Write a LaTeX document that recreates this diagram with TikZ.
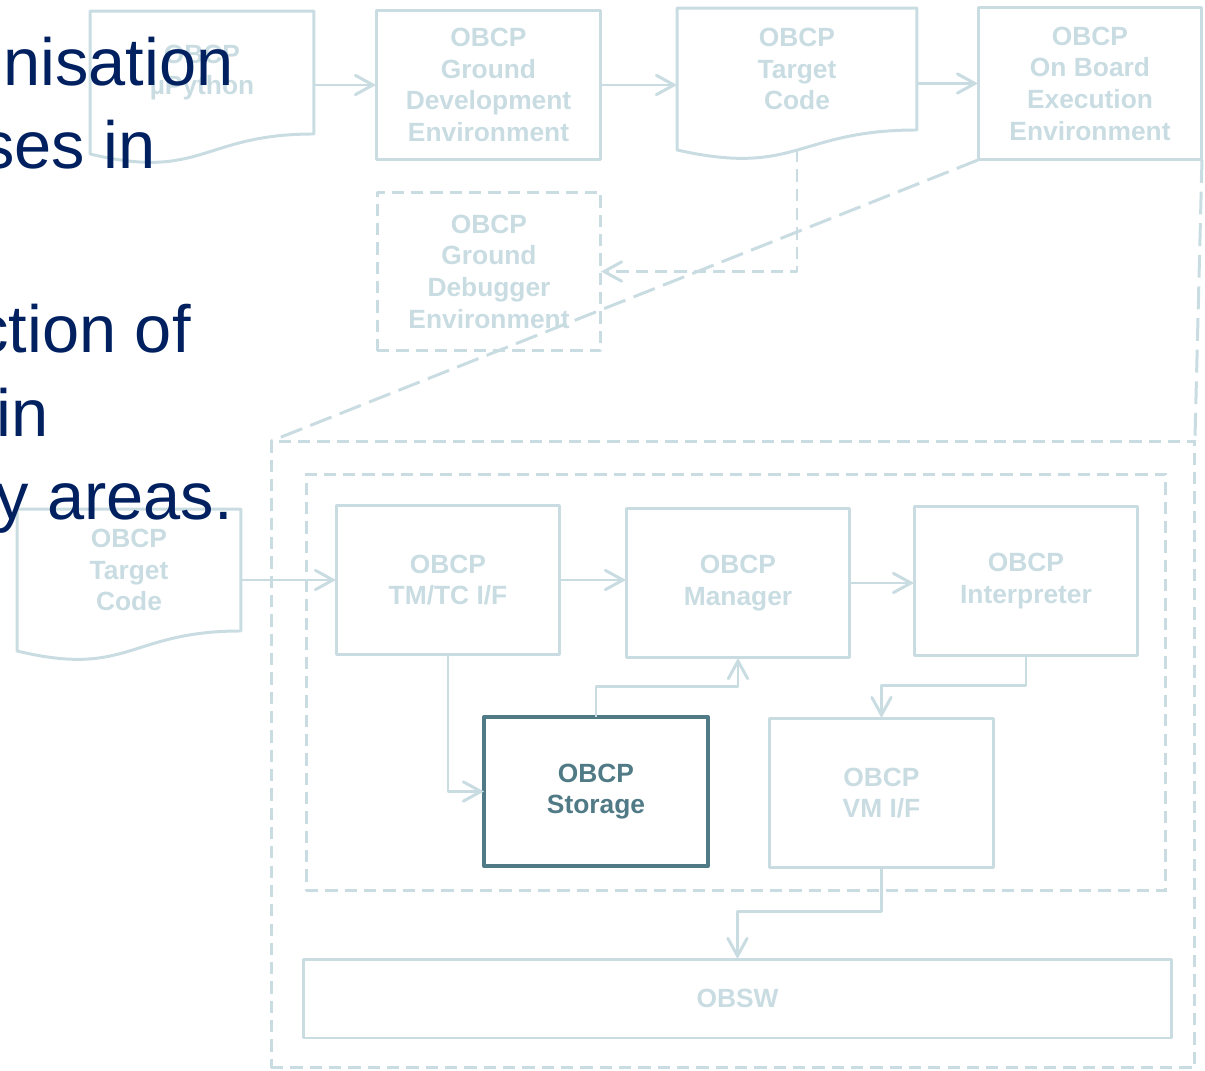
\documentclass[tikz,border=0pt]{standalone}
\usepackage{fontspec}
\setmainfont{Liberation Sans}
\usetikzlibrary{arrows.meta,calc}
\definecolor{pale}{RGB}{200,220,226}
\definecolor{storeteal}{RGB}{80,122,133}
\definecolor{slidenavy}{RGB}{0,32,96}
\tikzset{
  x=0.02cm, y=-0.02cm,
  lbl/.style={font=\bfseries\fontsize{15}{18}\selectfont, text=pale, align=center},
  box/.style={lbl, draw=pale, line width=1.7pt, line join=round, inner sep=0pt, outer sep=0pt},
  doc/.style={lbl, draw=none, inner sep=0pt, outer sep=0pt},
  plain/.style={draw=pale, line width=1.7pt, line join=round},
  conn/.style={plain, -{Straight Barb[length=10pt,width=11pt,line cap=round]}},
  frame/.style={draw=pale, line width=1.7pt, dash pattern=on 7pt off 4pt},
  proj/.style={draw=pale, line width=1.7pt, dash pattern=on 13pt off 5pt},
  dconn/.style={conn, dash pattern=on 7pt off 4pt},
  navytext/.style={font=\fontsize{38}{44}\selectfont, text=slidenavy, inner sep=0pt, anchor=base east},
}
% outline of a document shape around a node (wavy bottom edge)
\newcommand{\docoutline}[1]{%
  \draw[plain] (#1.north west) -- (#1.north east) -- (#1.south east)
    .. controls (#1.south) and ($(#1.south)+(0,47)$) .. ($(#1.south west)+(0,20)$) -- cycle;}
\begin{document}
\begin{tikzpicture}
\useasboundingbox (0,0) rectangle (1205,1071);

% containers
\node[frame, minimum width=18.48cm, minimum height=12.54cm, inner sep=0pt, outer sep=0pt] (outer) at (733,754.5) {};
\node[frame, minimum width=17.2cm, minimum height=8.34cm, inner sep=0pt, outer sep=0pt] (inner) at (736,682.5) {};

% ground chain
\node[doc, minimum width=4.48cm, minimum height=2.46cm] (upy) at (202,72.5) {OBCP\\µPython};
\docoutline{upy}
\node[box, minimum width=4.5cm, minimum height=3cm] (gde) at (488.5,85) {OBCP\\Ground\\Development\\Environment};
\node[doc, minimum width=4.8cm, minimum height=2.44cm] (tc) at (797,69) {OBCP\\Target\\Code};
\docoutline{tc}
\node[box, minimum width=4.48cm, minimum height=3.06cm] (obee) at (1090,83.5) {OBCP\\On Board\\Execution\\Environment};
\node[box, dash pattern=on 7pt off 4pt, minimum width=4.48cm, minimum height=3.18cm] (gdbg) at (489,271.5) {OBCP\\Ground\\Debugger\\Environment};
\coordinate (tcw) at ($(tc.south)+(0,20)$);

% on-board detail
\node[doc, minimum width=4.48cm, minimum height=2.44cm] (tc2) at (129,570) {OBCP\\Target\\Code};
\docoutline{tc2}
\node[box, minimum width=4.48cm, minimum height=3cm] (tmtc) at (448,580) {OBCP\\TM/TC I/F};
\node[box, minimum width=4.48cm, minimum height=3cm] (mgr) at (738,583) {OBCP\\Manager};
\node[box, minimum width=4.48cm, minimum height=3cm] (interp) at (1026,581) {OBCP\\Interpreter};
\node[box, draw=storeteal, text=storeteal, line width=2.3pt, minimum width=4.48cm, minimum height=2.98cm] (store) at (596,791.5) {OBCP\\Storage};
\node[box, minimum width=4.5cm, minimum height=3cm] (vmif) at (881.5,793) {OBCP\\VM I/F};
\node[box, minimum width=17.38cm, minimum height=1.58cm] (obsw) at (737.5,998.5) {OBSW};

% connectors
\draw[conn] (upy.east |- gde.west) -- (gde.west);
\draw[conn] (gde.east) -- (gde.east -| tc.west);
\draw[conn] (tc.east |- obee.west) -- (obee.west);
\draw[dconn] (tcw) |- (gdbg.east);
\draw[proj] (obee.south west) -- (outer.north west);
\draw[proj] (obee.south east) -- (outer.north east);
\draw[conn] (tmtc.west -| tc2.east) -- (tmtc.west);
\draw[conn] (tmtc.east) -- (tmtc.east -| mgr.west);
\draw[conn] (mgr.east) -- (mgr.east -| interp.west);
\draw[conn] (tmtc.south) |- (store.west);
\draw[conn] (store.north) -- ++(0,-31) -| (mgr.south);
\draw[conn] (interp.south) -- ++(0,30) -| (vmif.north);
\draw[conn] (vmif.south) -- ++(0,44) -| (obsw.north);

% slide text behind the figure
\begin{scope}
\clip (0,0) rectangle (1205,1071);
\node[navytext] (t1) at (234,86) {nisation};
\node[navytext] (t2) at (156,169) {ses in};
\node[navytext] (t3) at (191,353) {ction of};
\node[navytext] (t4) at (49,437) {in};
\node[navytext] (t5) at (233,520) {y areas.};
\end{scope}
\end{tikzpicture}
\end{document}
